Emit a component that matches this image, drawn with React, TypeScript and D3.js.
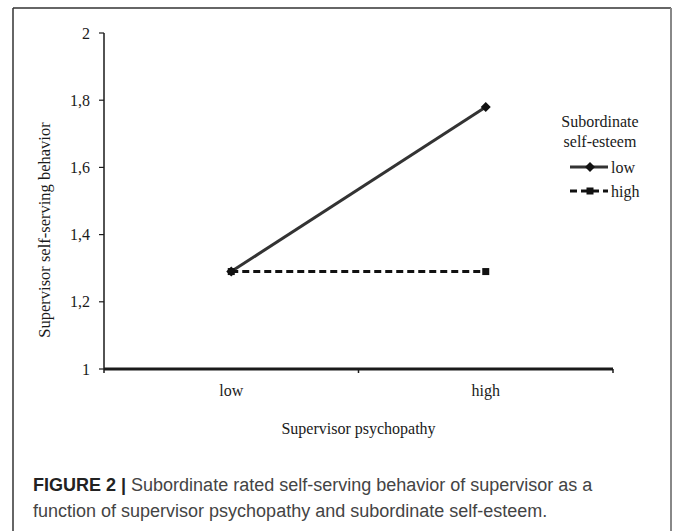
import React from 'react';
import * as d3 from 'd3';

const categories = ['low', 'high'];
const yTickValues = [1, 1.2, 1.4, 1.6, 1.8, 2];
const seriesNames = ['low', 'high'];
const lowValues = [1.29, 1.78];
const highValues = [1.29, 1.29];

const fmt = (v: number) => (v === 1 || v === 2 ? String(v) : v.toFixed(1).replace('.', ','));

const App: React.FC = () => {
  const width = 673;
  const height = 531;
  const axisLeft = 104;
  const axisRight = 613;
  const axisTop = 33;
  const axisBottom = 369;

  const yScale = d3.scaleLinear().domain([1, 2]).range([axisBottom, axisTop]);
  const xBand = d3.scaleBand().domain(categories).range([axisLeft, axisRight]);
  const xMid = (c: string) => (xBand(c) as number) + xBand.bandwidth() / 2;

  const line = d3.line<number>().x((_, i) => xMid(categories[i])).y(d => yScale(d));
  const serif = '"Liberation Serif", "Times New Roman", serif';
  const sans = '"Liberation Sans", Arial, sans-serif';
  const ink = '#1a1a1a';

  const diamond = (cx: number, cy: number, r: number) =>
    `M${cx},${cy - r}L${cx + r},${cy}L${cx},${cy + r}L${cx - r},${cy}Z`;

  const bandEdges = [...categories.map(c => xBand(c) as number), axisRight];

  return (
    <svg width={width} height={height} style={{ position: 'absolute', left: 0, top: 0, background: '#fff' }}>
      {/* frame */}
      <line x1={13} y1={8} x2={13} y2={height} stroke="#333" strokeWidth={1.5} />
      <line x1={13} y1={8} x2={671} y2={8} stroke="#333" strokeWidth={1.5} />
      <line x1={671} y1={8} x2={671} y2={height} stroke="#888" strokeWidth={2} />

      {/* y axis */}
      <line x1={axisLeft} y1={axisTop} x2={axisLeft} y2={axisBottom} stroke={ink} strokeWidth={1.5} />
      {yTickValues.map(v => (
        <g key={v} transform={`translate(0, ${yScale(v)})`}>
          <line x1={axisLeft - 5} x2={axisLeft} stroke={ink} strokeWidth={1.2} />
          <text x={axisLeft - 14} dy="0.35em" textAnchor="end" fontFamily={serif} fontSize={16} fill={ink}>{fmt(v)}</text>
        </g>
      ))}
      <text transform={`translate(50, 230) rotate(-90)`} textAnchor="middle"
        fontFamily={serif} fontSize={16.5} fill={ink}>Supervisor self-serving behavior</text>

      {/* x axis */}
      <line x1={axisLeft} y1={axisBottom} x2={axisRight} y2={axisBottom} stroke={ink} strokeWidth={3} />
      {bandEdges.map((x, i) => (
        <line key={i} x1={x} x2={x} y1={axisBottom} y2={axisBottom + 4} stroke={ink} strokeWidth={1.5} />
      ))}
      {categories.map(c => (
        <text key={c} x={xMid(c)} y={396} textAnchor="middle"
          fontFamily={serif} fontSize={16} fill={ink}>{c}</text>
      ))}
      <text x={(axisLeft + axisRight) / 2} y={434} textAnchor="middle" fontFamily={serif} fontSize={16} fill={ink}>Supervisor psychopathy</text>

      {/* series */}
      <path d={line(lowValues) || ''} fill="none" stroke="#333" strokeWidth={3} />
      <path d={line(highValues) || ''} fill="none" stroke="#111" strokeWidth={3} strokeDasharray="7 4" />
      {lowValues.map((v, i) => (
        <path key={'l' + i} d={diamond(xMid(categories[i]), yScale(v), 5)} fill="#111" />
      ))}
      {highValues.map((v, i) => (
        <rect key={'h' + i} x={xMid(categories[i]) - 3.5} y={yScale(v) - 3.5} width={7} height={7} fill="#111" />
      ))}

      {/* legend */}
      <text x={600} y={127} textAnchor="middle" fontFamily={serif} fontSize={16} fill={ink}>Subordinate</text>
      <text x={600} y={147} textAnchor="middle" fontFamily={serif} fontSize={16} fill={ink}>self-esteem</text>
      {seriesNames.map((name, i) => {
        const y = 167 + i * 24;
        return (
          <g key={name}>
            <line x1={570} x2={608} y1={y} y2={y} stroke={i === 0 ? '#333' : '#111'} strokeWidth={3}
              strokeDasharray={i === 0 ? undefined : '7 4'} />
            {i === 0
              ? <path d={diamond(590, y, 5)} fill="#111" />
              : <rect x={586.5} y={y - 3.5} width={7} height={7} fill="#111" />}
            <text x={611} y={y} dy="0.35em" fontFamily={serif} fontSize={16} fill={ink}>{name}</text>
          </g>
        );
      })}

      {/* caption */}
      <text x={33} y={491} fontFamily={sans} fontSize={18} fill="#444">
        <tspan fontWeight="bold" fill="#222">FIGURE 2 | </tspan>Subordinate rated self-serving behavior of supervisor as a
      </text>
      <text x={33} y={517} fontFamily={sans} fontSize={18} fill="#444">function of supervisor psychopathy and subordinate self-esteem.</text>
    </svg>
  );
};

export default App;
